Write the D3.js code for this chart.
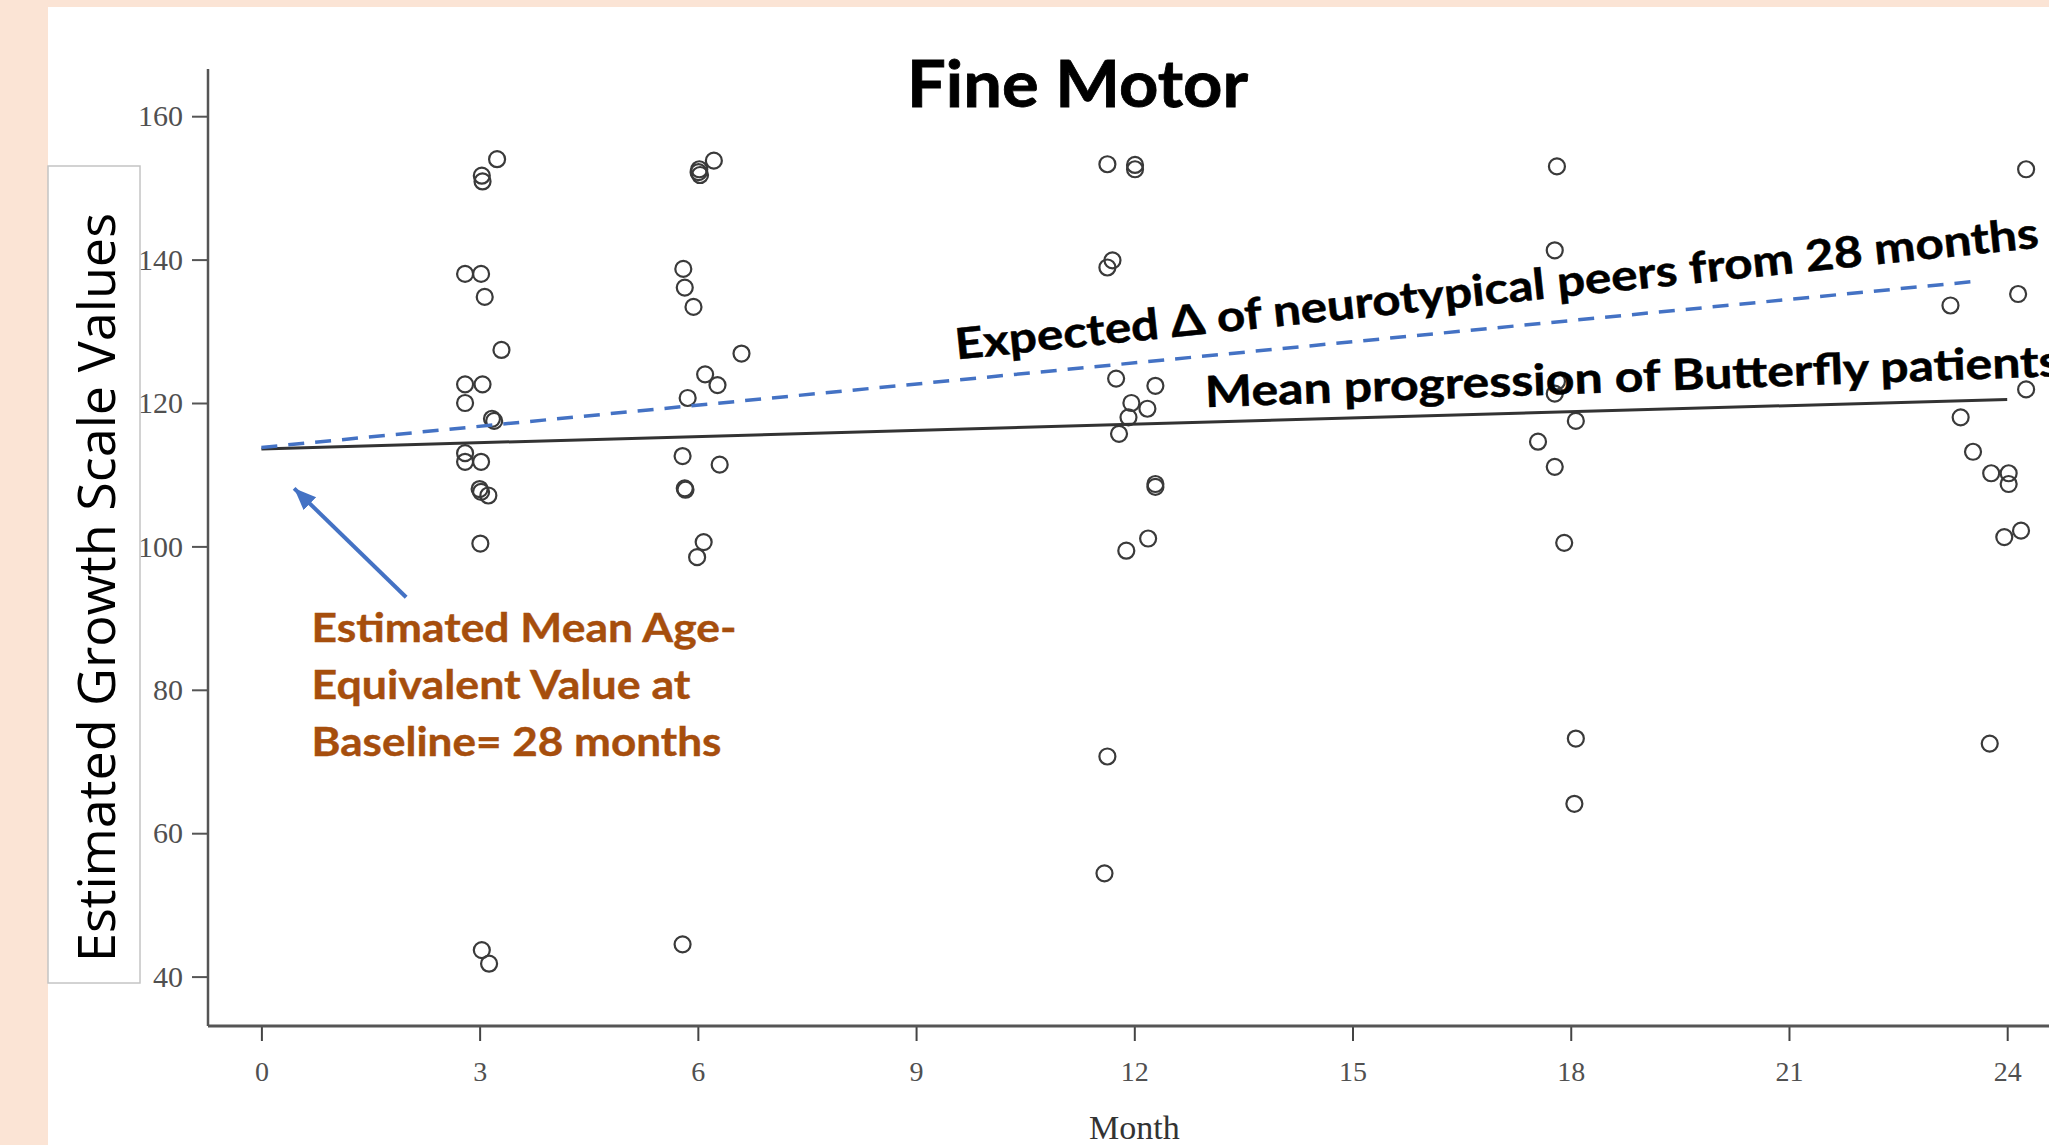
<!DOCTYPE html>
<html>
<head>
<meta charset="utf-8">
<script src="https://cdn.jsdelivr.net/npm/d3@7"></script>
<style>
  html, body { margin: 0; padding: 0; background: #FBE4D5; }
  svg { display: block; }
</style>
</head>
<body>
<div id="chart"></div>
<script>
// Tick values
const xTicks = [0, 3, 6, 9, 12, 15, 18, 21, 24];
const yTicks = [40, 60, 80, 100, 120, 140, 160];

// Scatter points per visit: [month, value]
const visit3 = [[3.24, 154.0], [3.03, 151.7], [3.04, 150.9], [2.80, 138.0], [3.02, 138.0], [3.07, 134.8],
    [3.30, 127.4], [2.80, 122.6], [3.04, 122.6], [2.80, 120.0], [3.17, 117.8], [3.20, 117.5],
    [2.80, 113.0], [2.80, 111.8], [3.02, 111.8], [3.00, 108.0], [3.02, 107.6], [3.12, 107.1],
    [3.01, 100.4], [3.03, 43.7], [3.13, 41.8]];
const visit6 = [[6.22, 153.8], [6.02, 152.6], [6.03, 151.8], [6.01, 152.2], [5.80, 138.7], [5.82, 136.1],
    [5.94, 133.4], [6.60, 126.9], [6.10, 124.0], [6.27, 122.5], [5.86, 120.7], [5.79, 112.6],
    [6.30, 111.4], [5.82, 108.1], [5.83, 107.9], [6.08, 100.6], [5.99, 98.5], [5.79, 44.5]];
const visit12 = [[11.63, 153.3], [12.01, 153.2], [12.01, 152.6], [11.70, 139.9], [11.63, 138.9],
    [11.75, 123.4], [12.29, 122.4], [11.96, 120.0], [12.18, 119.2], [11.92, 118.0], [11.79, 115.7],
    [12.29, 108.7], [12.29, 108.3], [12.19, 101.1], [11.89, 99.4], [11.63, 70.7], [11.59, 54.4]];
const visit18 = [[17.81, 153.0], [17.78, 141.3], [17.81, 123.0], [17.78, 121.3], [18.07, 117.5],
    [17.55, 114.6], [17.78, 111.1], [17.91, 100.5], [18.07, 73.2], [18.05, 64.1]];
const visit24 = [[24.26, 152.6], [23.22, 133.6], [24.15, 135.2], [24.26, 121.9], [23.36, 118.0],
    [23.53, 113.2], [23.78, 110.2], [24.02, 110.2], [24.02, 108.7], [24.19, 102.2], [23.96, 101.3],
    [23.76, 72.5]];

// Trend lines
const meanMonths = [0, 24];
const meanValues = [113.6, 120.5];
const expectedMonths = [0, 23.6];
const expectedValues = [113.8, 137.0];

// Arrow annotation (from / to, in data units)
const arrowFrom = [1.99, 92.9];
const arrowTo = [0.45, 108.1];

const W = 2049, H = 1145;
const axisX = 208, axisTop = 69, axisY = 1026;
const blue = "#4472C4", orange = "#A64E0D";

const svg = d3.select("#chart").append("svg")
    .attr("width", W)
    .attr("height", H);

// Slide background and white picture
svg.append("rect").attr("width", W).attr("height", H).attr("fill", "#FBE4D5");
svg.append("rect").attr("x", 48).attr("y", 7).attr("width", W - 48).attr("height", H - 7).attr("fill", "#ffffff");

const x = d3.scaleLinear().domain([0, 24]).range([261.4, 2007.2]);
const y = d3.scaleLinear().domain([40, 160]).range([976.6, 116.2]);

// Y axis
const gy = svg.append("g")
    .attr("transform", `translate(${axisX},0)`)
    .call(d3.axisLeft(y).tickValues(yTicks).tickSize(16).tickPadding(9));
gy.select(".domain").remove();
gy.selectAll(".tick line").attr("stroke", "#555").attr("stroke-width", 2);
gy.selectAll(".tick text")
    .attr("fill", "#505050")
    .style("font-family", "'Liberation Serif', 'Times New Roman', serif")
    .style("font-size", "30px");
svg.append("line")
    .attr("x1", axisX).attr("x2", axisX)
    .attr("y1", axisTop).attr("y2", axisY)
    .attr("stroke", "#555").attr("stroke-width", 2.5);

// X axis
const gx = svg.append("g")
    .attr("transform", `translate(0,${axisY})`)
    .call(d3.axisBottom(x).tickValues(xTicks).tickSize(15));
gx.select(".domain").remove();
gx.selectAll(".tick line").attr("stroke", "#444").attr("stroke-width", 2);
gx.selectAll(".tick text")
    .attr("y", 55).attr("dy", null)
    .attr("fill", "#505050")
    .style("font-family", "'Liberation Serif', 'Times New Roman', serif")
    .style("font-size", "28px");
svg.append("line")
    .attr("x1", axisX).attr("x2", W)
    .attr("y1", axisY).attr("y2", axisY)
    .attr("stroke", "#555").attr("stroke-width", 3);

svg.append("text")
    .attr("x", x(12)).attr("y", 1139)
    .attr("text-anchor", "middle")
    .attr("fill", "#333")
    .style("font-family", "'Liberation Serif', 'Times New Roman', serif")
    .style("font-size", "34px")
    .text("Month");

// Y label box
svg.append("rect")
    .attr("x", 48).attr("y", 166).attr("width", 92).attr("height", 817)
    .attr("fill", "#ffffff").attr("stroke", "#c4c4c4").attr("stroke-width", 1.5);
svg.append("text")
    .attr("transform", "translate(115,587.5) rotate(-90)")
    .attr("text-anchor", "middle")
    .attr("fill", "#000")
    .attr("textLength", 749).attr("lengthAdjust", "spacingAndGlyphs")
    .style("font-family", "'Open Sans', sans-serif")
    .style("font-size", "52px")
    .text("Estimated Growth Scale Values");

// Scatter points
const allPoints = [].concat(visit3, visit6, visit12, visit18, visit24);
svg.append("g").selectAll("circle")
    .data(allPoints)
    .enter()
    .append("circle")
    .attr("cx", d => x(d[0]))
    .attr("cy", d => y(d[1]))
    .attr("r", 8)
    .attr("fill", "none")
    .attr("stroke", "#3a3a3a")
    .attr("stroke-width", 2.2);

// Trend lines
const line = d3.line().x(d => x(d[0])).y(d => y(d[1]));
svg.append("path")
    .datum(meanMonths.map((m, i) => [m, meanValues[i]]))
    .attr("d", line)
    .attr("fill", "none")
    .attr("stroke", "#333")
    .attr("stroke-width", 3);
svg.append("path")
    .datum(expectedMonths.map((m, i) => [m, expectedValues[i]]))
    .attr("d", line)
    .attr("fill", "none")
    .attr("stroke", blue)
    .attr("stroke-width", 3.5)
    .attr("stroke-dasharray", "16 11");

// Arrow
const defs = svg.append("defs");
defs.append("marker")
    .attr("id", "arrowHead")
    .attr("markerUnits", "userSpaceOnUse")
    .attr("markerWidth", 24).attr("markerHeight", 20)
    .attr("refX", 22).attr("refY", 9)
    .attr("orient", "auto")
    .append("path")
    .attr("d", "M0,0 L22,9 L0,18 Z")
    .attr("fill", blue);
const ax0 = x(arrowFrom[0]), ay0 = y(arrowFrom[1]);
const ax1 = x(arrowTo[0]), ay1 = y(arrowTo[1]);
svg.append("line")
    .attr("x1", ax0).attr("y1", ay0)
    .attr("x2", ax1).attr("y2", ay1)
    .attr("stroke", blue)
    .attr("stroke-width", 4)
    .attr("marker-end", "url(#arrowHead)");

// Title
svg.append("text")
    .attr("x", 907).attr("y", 107)
    .attr("fill", "#000")
    .attr("stroke", "#000").attr("stroke-width", 0.8)
    .attr("textLength", 341).attr("lengthAdjust", "spacingAndGlyphs")
    .style("font-family", "Lato, sans-serif")
    .style("font-weight", "bold")
    .style("font-size", "65px")
    .text("Fine Motor");

// Rotated line labels
svg.append("text")
    .attr("transform", `translate(${x(9.556)},${y(126.06)}) rotate(-5.9)`)
    .attr("fill", "#000")
    .attr("stroke", "#000").attr("stroke-width", 0.5)
    .attr("textLength", 1089).attr("lengthAdjust", "spacingAndGlyphs")
    .style("font-family", "Lato, sans-serif")
    .style("font-weight", "bold")
    .style("font-size", "43px")
    .text("Expected \u0394 of neurotypical peers from 28 months");

svg.append("text")
    .attr("transform", `translate(${x(12.98)},${y(119.4)}) rotate(-2.1)`)
    .attr("fill", "#000")
    .attr("stroke", "#000").attr("stroke-width", 0.5)
    .attr("textLength", 856).attr("lengthAdjust", "spacingAndGlyphs")
    .style("font-family", "Lato, sans-serif")
    .style("font-weight", "bold")
    .style("font-size", "43px")
    .text("Mean progression of Butterfly patients");

// Orange baseline note
const noteLines = ["Estimated Mean Age-", "Equivalent Value at", "Baseline= 28 months"];
const noteWidths = [425, 379, 410];
svg.append("g").selectAll("text")
    .data(noteLines)
    .enter()
    .append("text")
    .attr("x", 311.5)
    .attr("y", (d, i) => 641.7 + i * 57.2)
    .attr("fill", orange)
    .attr("stroke", orange).attr("stroke-width", 0.4)
    .attr("textLength", (d, i) => noteWidths[i])
    .attr("lengthAdjust", "spacingAndGlyphs")
    .style("font-family", "Lato, sans-serif")
    .style("font-weight", "bold")
    .style("font-size", "40px")
    .text(d => d);
</script>
</body>
</html>
